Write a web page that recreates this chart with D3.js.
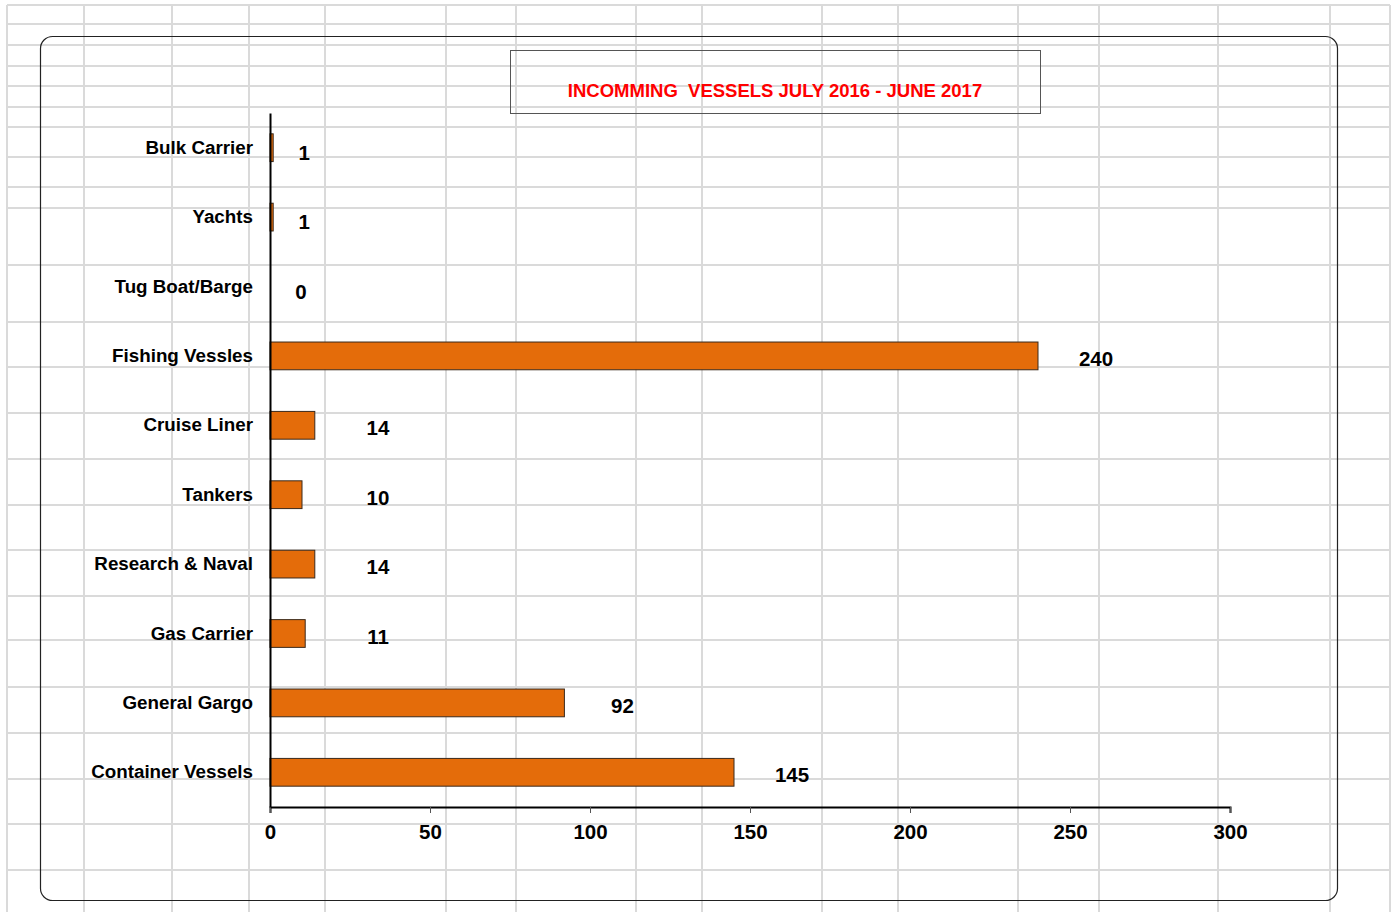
<!DOCTYPE html>
<html>
<head>
<meta charset="utf-8">
<script src="https://cdn.jsdelivr.net/npm/d3@7"></script>
<style>
  body { margin: 0; background: #fff; }
  text { font-family: "Liberation Sans", Arial, sans-serif; font-weight: bold; }
</style>
</head>
<body>
<svg id="chart"></svg>
<script>
// data
const categories = ["Bulk Carrier", "Yachts", "Tug Boat/Barge", "Fishing Vessles", "Cruise Liner",
  "Tankers", "Research & Naval", "Gas Carrier", "General Gargo", "Container Vessels"];
const vessels = [1, 1, 0, 240, 14, 10, 14, 11, 92, 145];
const xTicks = [0, 50, 100, 150, 200, 250, 300];
const title = "INCOMMING  VESSELS JULY 2016 - JUNE 2017";

// spreadsheet cell lines behind the chart
const colLines = [7, 84, 172, 249, 325, 446, 516, 636, 702, 822, 898, 1018, 1099, 1218, 1330, 1390];
const rowLines = [5, 24, 45, 66, 86, 107, 127, 157, 187, 208, 265, 322, 367, 413, 459, 505, 550, 596, 640, 687, 733, 779, 824, 870];

const width = 1392, height = 912;
const fontSize = 18.8;
const numSize = 20.5;
const plot = {left: 270, right: 1230, top: 113, bottom: 807};

const svg = d3.select("#chart").attr("width", width).attr("height", height);

/* SHEET GRID */
const grid = svg.append("g").attr("stroke", "#dadada").attr("stroke-width", 2);
grid.selectAll(".row").data(rowLines).enter()
  .append("line")
    .attr("x1", 7).attr("x2", 1390)
    .attr("y1", d => d).attr("y2", d => d);
grid.selectAll(".col").data(colLines).enter()
  .append("line")
    .attr("x1", d => d).attr("x2", d => d)
    .attr("y1", 5).attr("y2", height);

/* CHART FRAME */
svg.append("rect")
  .attr("x", 40.5).attr("y", 36.5)
  .attr("width", 1297).attr("height", 864)
  .attr("rx", 12).attr("ry", 12)
  .attr("fill", "none")
  .attr("stroke", "#222")
  .attr("stroke-width", 1.2);

// title box
svg.append("rect")
  .attr("x", 510.5).attr("y", 50.5)
  .attr("width", 530).attr("height", 63)
  .attr("fill", "none")
  .attr("stroke", "#555")
  .attr("stroke-width", 1);
svg.append("text")
  .attr("x", 775).attr("y", 97)
  .attr("text-anchor", "middle")
  .attr("fill", "#ff0000")
  .attr("font-size", 18.5)
  .style("white-space", "pre")
  .text(title);

/* SCALES */
const x = d3.scaleLinear().domain([0, 300]).range([plot.left, plot.right]);
const y = d3.scaleBand().domain(categories).range([plot.top, plot.bottom])
  .paddingInner(0.6).paddingOuter(0.3);

// bars
svg.append("g").selectAll("rect")
  .data(vessels).enter()
  .append("rect")
    .attr("x", x(0))
    .attr("y", (d, i) => y(categories[i]))
    .attr("width", d => x(d) - x(0))
    .attr("height", y.bandwidth())
    .attr("fill", "#e46c0a")
    .attr("stroke", "#3b2a1c")
    .attr("stroke-width", 1);

// value labels, placed right of the bar ends
svg.append("g").selectAll("text")
  .data(vessels).enter()
  .append("text")
    .attr("x", d => d >= 5 ? Math.max(x(d) + 58, x(0) + 108) : x(d) + 31)
    .attr("y", (d, i) => y(categories[i]) + y.bandwidth() / 2 + (d >= 5 ? 3 : 5))
    .attr("dy", "0.35em")
    .attr("text-anchor", "middle")
    .attr("font-size", numSize)
    .attr("fill", "#000")
    .text(d => d);

/* AXES */
const xAxis = svg.append("g")
  .attr("transform", `translate(0,${plot.bottom})`)
  .call(d3.axisBottom(x).tickValues(xTicks).tickSize(6).tickPadding(11));
xAxis.select(".domain").attr("stroke", "#000").attr("stroke-width", 2);
xAxis.selectAll(".tick line").attr("stroke", "#555");
xAxis.selectAll(".tick text")
  .attr("font-size", numSize)
  .attr("font-family", "'Liberation Sans', Arial, sans-serif")
  .attr("fill", "#000");

const yAxis = svg.append("g")
  .attr("transform", `translate(${plot.left},0)`)
  .call(d3.axisLeft(y).tickSize(0).tickPadding(17));
yAxis.select(".domain").attr("stroke", "#000").attr("stroke-width", 2);
yAxis.selectAll(".tick text")
  .attr("font-size", fontSize)
  .attr("font-family", "'Liberation Sans', Arial, sans-serif")
  .attr("fill", "#000");
</script>
</body>
</html>
